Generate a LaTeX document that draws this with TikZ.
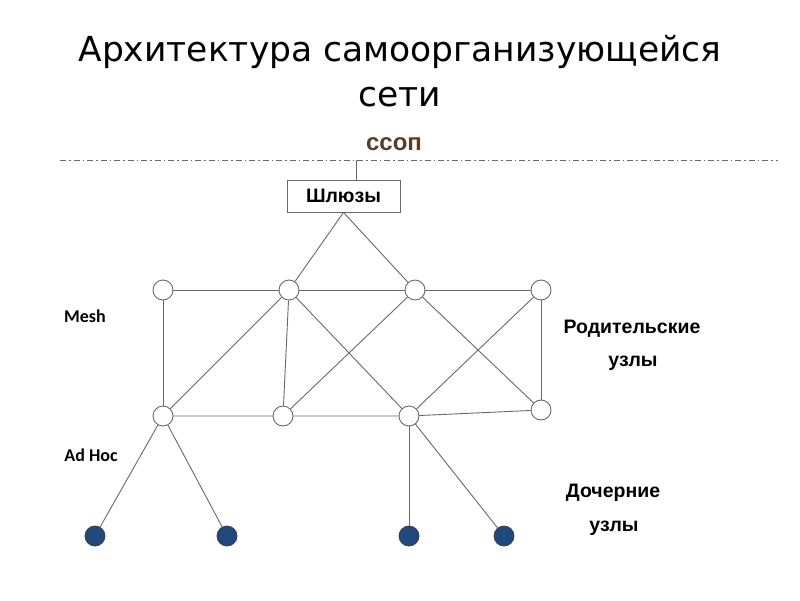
\documentclass[tikz,border=0pt]{standalone}
\usepackage{fontspec}
\setmainfont{DejaVu Sans}
\newfontfamily\rulabelfont{Liberation Sans}
\newfontfamily\enlabelfont{Carlito}
\definecolor{childblue}{RGB}{31,73,125}
\definecolor{ssopbrown}{RGB}{88,60,40}
\definecolor{linegray}{RGB}{105,105,105}
\begin{document}
\begin{tikzpicture}[x=1pt,y=-1pt,
  peer/.style={draw=linegray, circle, fill=white, minimum size=20pt, inner sep=0pt, line width=0.9pt},
  child/.style={draw=black!75, circle, fill=childblue, minimum size=20pt, inner sep=0pt, line width=0.8pt},
  link/.style={draw=linegray, line width=0.9pt},
  rulabel/.style={font=\rulabelfont\bfseries\fontsize{19.5}{22}\selectfont},
  enlabel/.style={font=\enlabelfont\bfseries\fontsize{18}{20}\selectfont}]
  \useasboundingbox (0,0) rectangle (800,600);
  % Title
  \node (title1) at (400,52) {\fontsize{34.5}{40}\selectfont Архитектура самоорганизующейся};
  \node (title2) at (400,97) {\fontsize{34.5}{40}\selectfont сети};
  \node[text=ssopbrown, font=\rulabelfont\bfseries\fontsize{24}{26}\selectfont] (ssop) at (394,144) {ссоп};
  % Border line and gateway
  \coordinate (lineL) at (60,160);
  \coordinate (lineR) at (778,160);
  \draw[linegray, line width=0.7pt, dash pattern=on 6pt off 3pt on 1.5pt off 3pt] (lineL) -- (lineR);
  \node[draw=linegray, line width=0.9pt, minimum width=113pt, minimum height=32pt, inner sep=0pt, rulabel] (gw) at (343.5,196) {Шлюзы};
  \coordinate (gwtop) at (356,160);
  \draw[link] (gwtop) -- (gwtop |- gw.north);
  % Parent nodes (mesh)
  \node[peer] (p1) at (163,290) {};
  \node[peer] (p2) at (289,290) {};
  \node[peer] (p3) at (415,290) {};
  \node[peer] (p4) at (541,290) {};
  \node[peer] (q1) at (163,416) {};
  \node[peer] (q2) at (283,416) {};
  \node[peer] (q3) at (409,416) {};
  \node[peer] (q4) at (541,410) {};
  % Child nodes (ad hoc)
  \node[child] (c1) at (95,536) {};
  \node[child] (c2) at (227,536) {};
  \node[child] (c3) at (409,536) {};
  \node[child] (c4) at (504,536) {};
  % Links
  \draw[link] (gw.south) -- (p2);
  \draw[link] (gw.south) -- (p3);
  \draw[link] (p1) -- (p2) -- (p3) -- (p4);
  \draw[link] (q1) -- (q2) -- (q3) -- (q4);
  \draw[link] (p1) -- (q1);
  \draw[link] (p2) -- (q2);
  \draw[link] (p4) -- (q4);
  \draw[link] (q1) -- (p2);
  \draw[link] (q2) -- (p3);
  \draw[link] (p2) -- (q3);
  \draw[link] (q3) -- (p4);
  \draw[link] (p3) -- (q4);
  \draw[link] (q1) -- (c1);
  \draw[link] (q1) -- (c2);
  \draw[link] (q3) -- (c3);
  \draw[link] (q3) -- (c4);
  % Labels
  \node[enlabel] (mesh) at (85,316) {Mesh};
  \node[enlabel] (adhoc) at (91,455) {Ad Hoc};
  \node[rulabel] (par1) at (632,329) {Родительские};
  \node[rulabel] (par2) at (633,363) {узлы};
  \node[rulabel] (ch1) at (613,493) {Дочерние};
  \node[rulabel] (ch2) at (614,528) {узлы};
\end{tikzpicture}
\end{document}
